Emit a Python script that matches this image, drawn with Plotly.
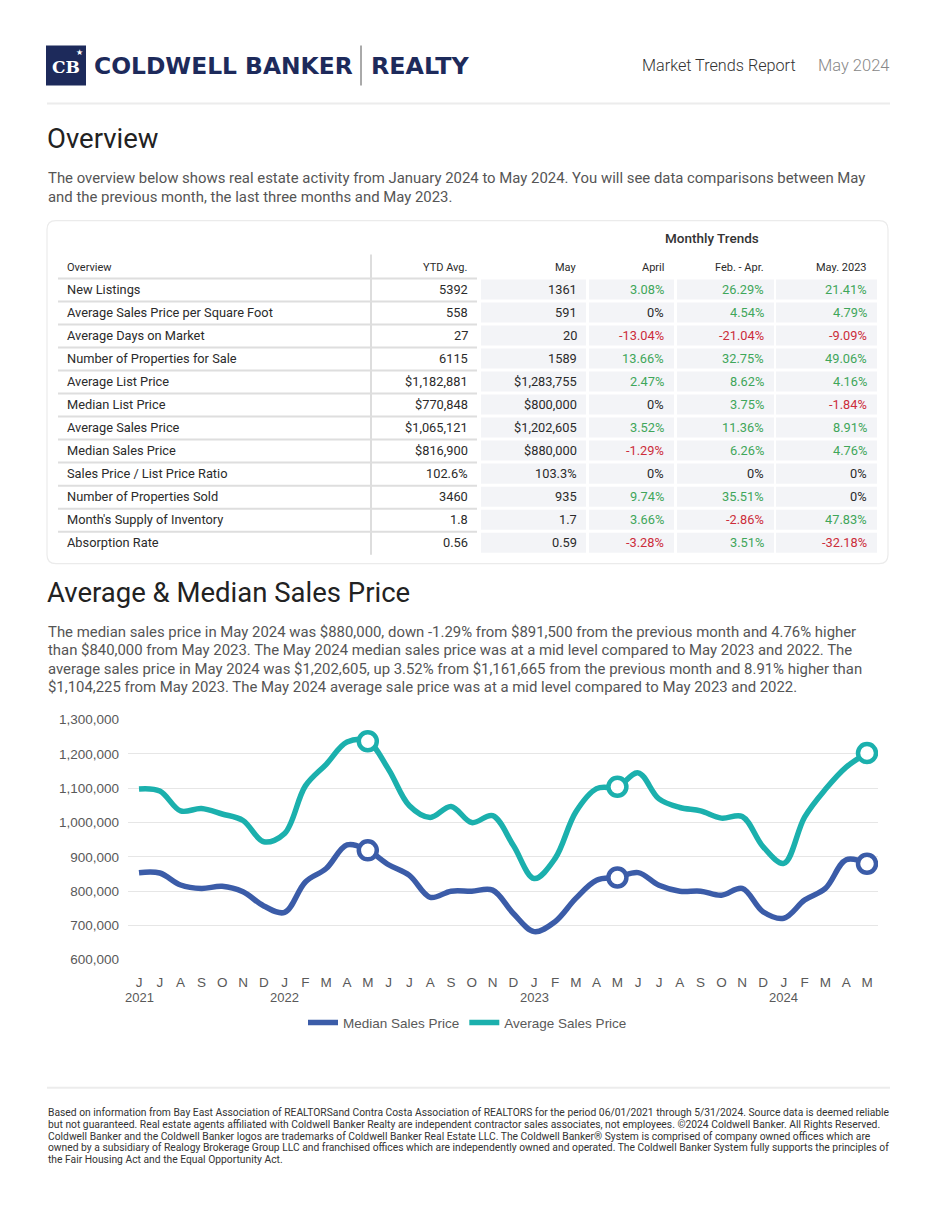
import plotly.graph_objects as go

# figure 919x1194 inside the page's default 8px body margin; small vertical calibration for the capture
FW, FH, OX, OY = 919, 1194, 8, 8
AX, BX = 0.0, 1.0
AY, BY = 7.6, 0.988
def X(px): return ((px - AX) / BX - OX) / FW
def Y(py): return 1 - ((py - AY) / BY - OY) / FH

# ---------------- chart data ----------------
months = ["2021-06","2021-07","2021-08","2021-09","2021-10","2021-11","2021-12",
          "2022-01","2022-02","2022-03","2022-04","2022-05","2022-06","2022-07","2022-08","2022-09","2022-10","2022-11","2022-12",
          "2023-01","2023-02","2023-03","2023-04","2023-05","2023-06","2023-07","2023-08","2023-09","2023-10","2023-11","2023-12",
          "2024-01","2024-02","2024-03","2024-04","2024-05"]
month_letters = ["J","J","A","S","O","N","D",
                 "J","F","M","A","M","J","J","A","S","O","N","D",
                 "J","F","M","A","M","J","J","A","S","O","N","D",
                 "J","F","M","A","M"]
year_labels = {"2021-06": "2021", "2022-01": "2022", "2023-01": "2023", "2024-01": "2024"}

median_price = [854000, 853000, 818000, 808000, 814000, 798000, 757000,
                738000, 827000, 866000, 935000, 919000, 877000, 846000, 782000, 800000, 800000, 803000, 735000,
                682000, 711000, 779000, 832000, 840000, 854000, 817000, 800000, 800000, 788000, 808000, 740000,
                721000, 774000, 808000, 891500, 880000]
average_price = [1098000, 1092000, 1034000, 1041000, 1025000, 1006000, 944000,
                 968000, 1107000, 1170000, 1235000, 1237000, 1155000, 1049000, 1015000, 1047000, 1000000, 1020000, 933000,
                 837000, 895000, 1031000, 1099000, 1104225, 1145000, 1069000, 1044000, 1034000, 1013000, 1018000, 930000,
                 881000, 1016000, 1097000, 1161665, 1202605]
highlight_months = ["2022-05", "2023-05", "2024-05"]
y_ticks = [600000, 700000, 800000, 900000, 1000000, 1100000, 1200000, 1300000]

# ---------------- table data ----------------
row_labels = ["New Listings", "Average Sales Price per Square Foot", "Average Days on Market",
              "Number of Properties for Sale", "Average List Price", "Median List Price",
              "Average Sales Price", "Median Sales Price", "Sales Price / List Price Ratio",
              "Number of Properties Sold", "Month's Supply of Inventory", "Absorption Rate"]
ytd_avg = ["5392", "558", "27", "6115", "$1,182,881", "$770,848", "$1,065,121", "$816,900",
           "102.6%", "3460", "1.8", "0.56"]
may_vals = ["1361", "591", "20", "1589", "$1,283,755", "$800,000", "$1,202,605", "$880,000",
            "103.3%", "935", "1.7", "0.59"]
april_chg = ["3.08%", "0%", "-13.04%", "13.66%", "2.47%", "0%", "3.52%", "-1.29%",
             "0%", "9.74%", "3.66%", "-3.28%"]
febapr_chg = ["26.29%", "4.54%", "-21.04%", "32.75%", "8.62%", "3.75%", "11.36%", "6.26%",
              "0%", "35.51%", "-2.86%", "3.51%"]
may2023_chg = ["21.41%", "4.79%", "-9.09%", "49.06%", "4.16%", "-1.84%", "8.91%", "4.76%",
               "0%", "0%", "47.83%", "-32.18%"]
col_headers = ["Overview", "YTD Avg.", "May", "April", "Feb. - Apr.", "May. 2023"]

MEDIAN_C = "#3b5ca8"
AVG_C = "#1bb0ad"
GREEN = "#3fa65a"
RED = "#cc2d3a"
DARK = "#2b2b2b"
TXT = "#555555"
FONT = "Roboto"
AXFONT = "Liberation Sans, Arial"
AXCOL = "#595959"

fig = go.Figure()

fig.add_trace(go.Scatter(x=months, y=median_price, mode="lines", name="Median Sales Price",
                         line=dict(color=MEDIAN_C, width=5.5, shape="spline", smoothing=1.0)))
fig.add_trace(go.Scatter(x=months, y=average_price, mode="lines", name="Average Sales Price",
                         line=dict(color=AVG_C, width=5.5, shape="spline", smoothing=1.0)))
for series, col in ((median_price, MEDIAN_C), (average_price, AVG_C)):
    hx = [m for m in months if m in highlight_months]
    hy = [series[months.index(m)] for m in hx]
    fig.add_trace(go.Scatter(x=hx, y=hy, mode="markers", showlegend=False,
                             marker=dict(size=18, color="white", line=dict(color=col, width=4.5))))

shapes = []
ann = []

def text(px, py, s, size, color=TXT, xanchor="left", yanchor="middle", family=FONT, weight=None):
    f = dict(family=family, size=size, color=color)
    if weight:
        f["weight"] = weight
    ann.append(dict(x=X(px), y=Y(py), xref="paper", yref="paper", text=s, showarrow=False,
                    xanchor=xanchor, yanchor=yanchor, font=f, borderpad=0,
                    align=xanchor if xanchor != "center" else "center"))

def hline(x0, x1, y, color, width):
    shapes.append(dict(type="line", xref="paper", yref="paper", x0=X(x0), x1=X(x1), y0=Y(y), y1=Y(y),
                       line=dict(color=color, width=width), layer="below"))

def vline(x, y0, y1, color, width):
    shapes.append(dict(type="line", xref="paper", yref="paper", x0=X(x), x1=X(x), y0=Y(y0), y1=Y(y1),
                       line=dict(color=color, width=width), layer="below"))

def rect(x0, y0, x1, y1, fill, line_color=None, lw=0):
    shapes.append(dict(type="rect", xref="paper", yref="paper", x0=X(x0), x1=X(x1), y0=Y(y1), y1=Y(y0),
                       fillcolor=fill, line=dict(color=line_color or fill, width=lw), layer="below"))

# ---------- header ----------
rect(46, 46, 86, 86, "#1d2a5b")
text(66, 67, "<b>CB</b>", 17, color="white", xanchor="center", family="DejaVu Serif")
text(79, 53, "★", 8, color="white", xanchor="center", family="DejaVu Sans")
text(93, 66, "<b>COLDWELL BANKER</b>", 23.4, color="#1d2a5b", family="DejaVu Sans")
vline(361, 46, 86, "#555555", 1)
text(370, 66, "<b>REALTY</b>", 23.8, color="#1d2a5b", family="DejaVu Sans")
text(797, 66, "Market Trends Report", 16.2, color="#333333", xanchor="right", weight=300)
text(890, 66, "May 2024", 16.5, color="#888888", xanchor="right", weight=300)
hline(47, 890, 104, "#ececec", 2)

# ---------- overview ----------
text(46, 139, "Overview", 27.5, color="#222222")
text(47, 178, "The overview below shows real estate activity from January 2024 to May 2024. You will see data comparisons between May", 14.9)
text(47, 197, "and the previous month, the last three months and May 2023.", 14.9)

# card
x0c, y0c, x1c, y1c, r = 47, 221, 888, 564, 9
rx, ry = r / FW, r / FH
path = (f"M {X(x0c)+rx},{Y(y0c)} L {X(x1c)-rx},{Y(y0c)} Q {X(x1c)},{Y(y0c)} {X(x1c)},{Y(y0c)-ry} "
        f"L {X(x1c)},{Y(y1c)+ry} Q {X(x1c)},{Y(y1c)} {X(x1c)-rx},{Y(y1c)} "
        f"L {X(x0c)+rx},{Y(y1c)} Q {X(x0c)},{Y(y1c)} {X(x0c)},{Y(y1c)+ry} "
        f"L {X(x0c)},{Y(y0c)-ry} Q {X(x0c)},{Y(y0c)} {X(x0c)+rx},{Y(y0c)} Z")
shapes.append(dict(type="path", xref="paper", yref="paper", path=path, fillcolor="white",
                   line=dict(color="#ebebeb", width=1.2), layer="below"))

text(712, 238, "Monthly Trends", 13.5, color="#333333", xanchor="center", weight=500)
header_right = [None, 469, 578, 665, 765, 868]
text(66, 268, col_headers[0], 11, color=DARK)
for h, xr in zip(col_headers[1:], header_right[1:]):
    text(xr, 268, h, 11, color=DARK, xanchor="right")

cells_x = [(481, 586), (589, 674), (677, 774), (776, 877)]
vline(371, 255, 555, "#dddddd", 2)

def chg_color(s):
    if s.startswith("-"):
        return RED
    if s == "0%":
        return DARK
    return GREEN

for i, lab in enumerate(row_labels):
    yc = 290 + 23 * i
    hline(58, 477, 279 + 23 * i, "#dedede", 2)
    for (cx0, cx1) in cells_x:
        rect(cx0, yc - 10, cx1, yc + 10, "#f3f4f7")
    text(66, yc, lab, 12.8, color=DARK)
    text(469, yc, ytd_avg[i], 12.8, color=DARK, xanchor="right")
    text(578, yc, may_vals[i], 12.8, color=DARK, xanchor="right")
    text(665, yc, april_chg[i], 12.8, color=chg_color(april_chg[i]), xanchor="right")
    text(765, yc, febapr_chg[i], 12.8, color=chg_color(febapr_chg[i]), xanchor="right")
    text(868, yc, may2023_chg[i], 12.8, color=chg_color(may2023_chg[i]), xanchor="right")

# ---------- chart section text ----------
text(46, 593, "Average & Median Sales Price", 27.5, color="#222222")
para = ["The median sales price in May 2024 was $880,000, down -1.29% from $891,500 from the previous month and 4.76% higher",
        "than $840,000 from May 2023. The May 2024 median sales price was at a mid level compared to May 2023 and 2022. The",
        "average sales price in May 2024 was $1,202,605, up 3.52% from $1,161,665 from the previous month and 8.91% higher than",
        "$1,104,225 from May 2023. The May 2024 average sale price was at a mid level compared to May 2023 and 2022."]
for k, line in enumerate(para):
    text(47, 632 + 18.5 * k, line, 14.9)

# year labels under the January ticks (placed through the x axis)
for m, yr in year_labels.items():
    ann.append(dict(x=m, xref="x", y=Y(998), yref="paper", text=yr, showarrow=False,
                    xanchor="center", yanchor="middle", borderpad=0,
                    font=dict(family=AXFONT, size=13, color=AXCOL)))

# ---------- footer ----------
hline(47, 890, 1088, "#ececec", 2)
foot = ["Based on information from Bay East Association of REALTORSand Contra Costa Association of REALTORS for the period 06/01/2021 through 5/31/2024. Source data is deemed reliable",
        "but not guaranteed. Real estate agents affiliated with Coldwell Banker Realty are independent contractor sales associates, not employees. ©2024 Coldwell Banker. All Rights Reserved.",
        "Coldwell Banker and the Coldwell Banker logos are trademarks of Coldwell Banker Real Estate LLC. The Coldwell Banker® System is comprised of company owned offices which are",
        "owned by a subsidiary of Realogy Brokerage Group LLC and franchised offices which are independently owned and operated. The Coldwell Banker System fully supports the principles of",
        "the Fair Housing Act and the Equal Opportunity Act."]
for k, line in enumerate(foot):
    text(47, 1113 + 11.7 * k, line, 10.3, color="#333333")

# ---------- axes ----------
pad = 2000
top_px = 720 - pad * 240 / 700000
bot_px = 960 + pad * 240 / 700000
# x: Jun 2021 at 139px, May 2024 at 867px, plot spans 128..878
fig.update_layout(
    width=FW, height=FH, margin=dict(l=0, r=0, t=0, b=0), autosize=False,
    paper_bgcolor="white", plot_bgcolor="white",
    shapes=shapes, annotations=ann,
    xaxis=dict(domain=[X(128), X(878)], type="category", range=[-0.529, 35.529],
               tickmode="array", tickvals=months, ticktext=month_letters, tickangle=0,
               showgrid=False, zeroline=False, showline=False, ticks="",
               tickfont=dict(family=AXFONT, size=13.5, color=AXCOL),
               ticklabelstandoff=12),
    yaxis=dict(domain=[Y(bot_px), Y(top_px)],
               range=[600000 - pad, 1300000 + pad], tickmode="array", tickvals=y_ticks,
               tickformat=",", showgrid=True, gridcolor="#e6e6e6", gridwidth=1,
               zeroline=False, showline=False, ticks="",
               tickfont=dict(family=AXFONT, size=13.5, color=AXCOL),
               ticklabelstandoff=8),
    legend=dict(orientation="h", x=X(467.5), xanchor="center", y=Y(1023), yanchor="middle",
                font=dict(family=AXFONT, size=13.5, color=AXCOL),
                bgcolor="rgba(0,0,0,0)"),
    showlegend=True,
)

fig.write_html("out.html", config={"displayModeBar": False})
